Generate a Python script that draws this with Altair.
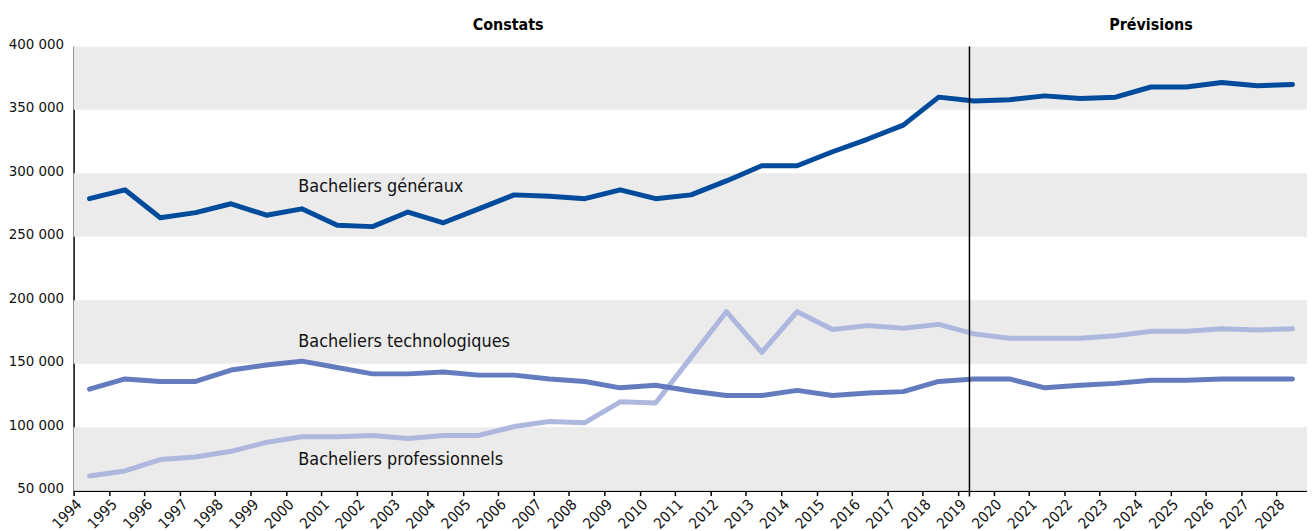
import altair as alt
import pandas as pd

years = list(range(1994, 2029))

generaux = [280000, 287000, 265000, 269000, 276000, 267000, 272000, 259000, 258000, 269500,
            261000, 272000, 283000, 282000, 280000, 287000, 280000, 283000, 294000, 306000,
            306000, 317000, 327000, 338000, 360000, 357000, 358000, 361000, 359000, 360000,
            368000, 368000, 371500, 369000, 370000]
technologiques = [130000, 138000, 136000, 136000, 145000, 149000, 152000, 147000, 142000, 142000,
                  143500, 141000, 141000, 138000, 136000, 131000, 133000, 128500, 125000, 125000,
                  129000, 125000, 127000, 128000, 136000, 138000, 138000, 131000, 133000, 134500,
                  137000, 137000, 138000, 138000, 138000]
professionnels = [61500, 65500, 74500, 76500, 81000, 88000, 92500, 92500, 93500, 91000,
                  93500, 93500, 100500, 104500, 103500, 120000, 119000, 155000, 191000, 159000,
                  191000, 177000, 180000, 178000, 181000, 173500, 170000, 170000, 170000, 172000,
                  175500, 175500, 177500, 176500, 177500]

series_names = ["Bacheliers professionnels", "Bacheliers technologiques", "Bacheliers généraux"]
series_colors = ["#aeb7de", "#637bbf", "#004b9b"]

band_lo = [350000, 250000, 150000, 50000]
band_hi = [400000, 300000, 200000, 100000]

y_ticks = [50000, 100000, 150000, 200000, 250000, 300000, 350000, 400000]

label_text = ["Bacheliers généraux", "Bacheliers technologiques", "Bacheliers professionnels"]
label_x = [2000.35, 2000.35, 2000.35]
label_y = [288800, 166700, 74300]

header_text = ["Constats", "Prévisions"]
header_x = [2006.28, 2024.45]

split_year = [2019.32]

FONT = "DejaVu Sans Condensed, Liberation Sans Narrow, sans-serif"
W, H = 1241, 447

rows = []
for name, vals in zip(series_names, [professionnels, technologiques, generaux]):
    for y, v in zip(years, vals):
        rows.append({"year": y, "value": v, "serie": name})
lines_df = pd.DataFrame(rows)

bands_df = pd.DataFrame({"lo": band_lo, "hi": band_hi})
labels_df = pd.DataFrame({"text": label_text, "x": label_x, "y": label_y})
headers_df = pd.DataFrame({"text": header_text, "x": header_x})
split_df = pd.DataFrame({"x": split_year})

xscale = alt.Scale(domain=[1994, 2028.86], nice=False, zero=False)
yscale = alt.Scale(domain=[50000, 400000], nice=False, zero=False)

x_axis = alt.Axis(
    values=years, format="d", labelAngle=315, labelAlign="right", labelBaseline="top",
    ticks=True, tickSize=5, tickColor="#000000", tickWidth=1.5,
    domainColor="#000000", domainWidth=1.5, grid=False,
    labelFont=FONT, labelFontSize=15, labelColor="#111111", labelPadding=1,
    labelOverlap=False, labelFlush=False, title=None)
y_axis = alt.Axis(
    values=y_ticks,
    labelExpr="format(datum.value/1000, 'd') + ' 000'",
    ticks=False, grid=False, domain=True, domainColor="#000000", domainWidth=1.5,
    labelFont=FONT, labelFontSize=15, labelColor="#111111", labelPadding=10,
    labelOffset=-3, labelOverlap=False, labelFlush=False, title=None)

bands = alt.Chart(bands_df).mark_rect(color="#ebebeb").encode(
    x=alt.value(0), x2=alt.value(W),
    y=alt.Y("hi:Q", scale=yscale, axis=y_axis),
    y2="lo:Q",
)

lines = alt.Chart(lines_df).transform_calculate(
    xpos="datum.year + 0.45"
).mark_line(strokeWidth=5, strokeCap="round", strokeJoin="round").encode(
    x=alt.X("xpos:Q", scale=xscale, axis=x_axis),
    y=alt.Y("value:Q", scale=yscale, axis=y_axis),
    color=alt.Color("serie:N", scale=alt.Scale(domain=series_names, range=series_colors), legend=None),
    detail="serie:N",
    order=alt.Order("year:Q"),
)

split = alt.Chart(split_df).mark_rule(color="#000000", strokeWidth=1.5).encode(
    x=alt.X("x:Q", scale=xscale, axis=x_axis), y=alt.value(0), y2=alt.value(H + 6)
)

labels = alt.Chart(labels_df).mark_text(
    align="left", baseline="middle", font=FONT, fontSize=18, color="#111111"
).encode(x=alt.X("x:Q", scale=xscale, axis=x_axis),
         y=alt.Y("y:Q", scale=yscale, axis=y_axis), text="text:N")

headers = alt.Chart(headers_df).mark_text(
    align="center", baseline="middle", font=FONT, fontSize=16, fontWeight="bold", color="#000000"
).encode(x=alt.X("x:Q", scale=xscale, axis=x_axis), y=alt.value(-21), text="text:N")

chart = alt.layer(bands, lines, split, labels, headers).properties(
    width=W, height=H,
    autosize=alt.AutoSizeParams(type="none"),
    padding={"left": 66, "top": 37, "right": 0, "bottom": 40},
).configure_view(stroke=None)

chart.save("out.html", embed_options={"renderer": "svg", "actions": False})
